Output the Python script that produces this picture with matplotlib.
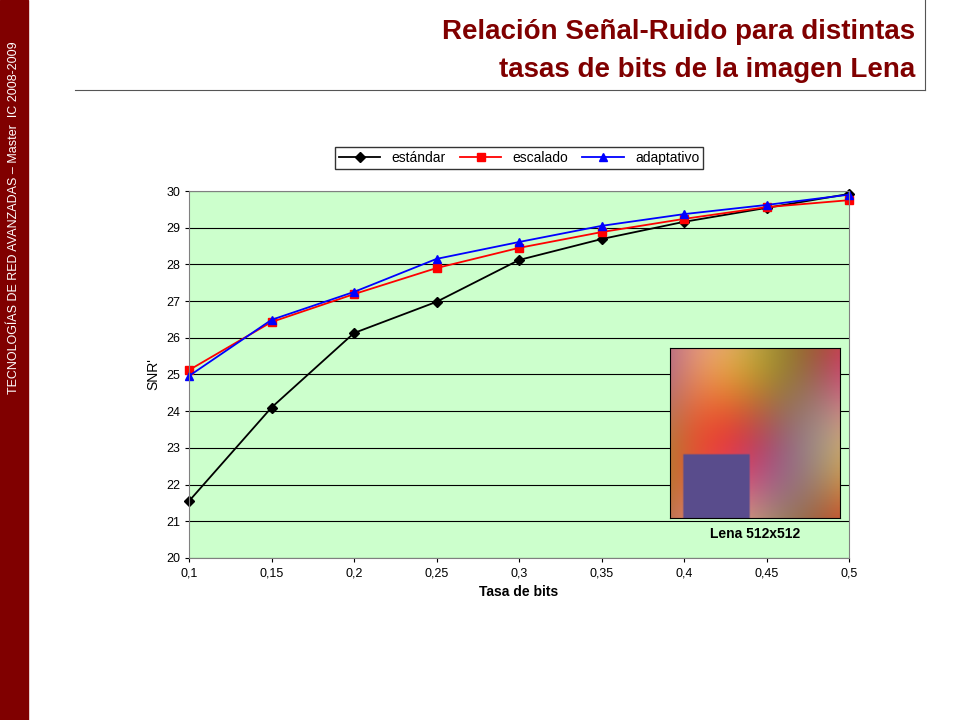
import matplotlib
matplotlib.use("Agg")
import matplotlib.pyplot as plt
import numpy as np
from matplotlib.patches import Rectangle
from matplotlib.lines import Line2D

x = [0.1, 0.15, 0.2, 0.25, 0.3, 0.35, 0.4, 0.45, 0.5]
estandar = [21.55, 24.1, 26.13, 26.98, 28.12, 28.69, 29.16, 29.54, 29.92]
escalado = [25.12, 26.43, 27.19, 27.9, 28.45, 28.88, 29.24, 29.56, 29.75]
adaptativo = [24.96, 26.49, 27.25, 28.15, 28.61, 29.05, 29.37, 29.62, 29.9]
xticks = ["0,1", "0,15", "0,2", "0,25", "0,3", "0,35", "0,4", "0,45", "0,5"]

fig = plt.figure(figsize=(9.6, 7.2), dpi=100)
fig.patch.set_facecolor("white")
plt.rcParams['font.family'] = ['Liberation Sans', 'DejaVu Sans']

# side bar
fig.patches.append(Rectangle((0, 0), 28/960, 1, transform=fig.transFigure, color="#800000", zorder=0))
fig.text(14/960, 1 - 218/720, "TECNOLOGÍAS DE RED AVANZADAS – Master  IC 2008-2009", rotation=90,
         color="white", fontsize=9, ha="center", va="center")
# title
fig.text(915/960, 1 - 32/720, "Relación Señal-Ruido para distintas", ha="right", va="center",
         color="#800000", fontsize=20, fontweight="bold")
fig.text(915/960, 1 - 70/720, "tasas de bits de la imagen Lena", ha="right", va="center",
         color="#800000", fontsize=20, fontweight="bold")
fig.lines.append(Line2D([75/960, 925/960], [1 - 90/720]*2, transform=fig.transFigure, color="#555555", lw=0.8))
fig.lines.append(Line2D([925/960]*2, [1 - 90/720, 1], transform=fig.transFigure, color="#555555", lw=0.8))

ax = fig.add_axes([189/960, 1 - 558/720, 660/960, 367/720])
ax.set_facecolor("#CCFFCC")
ax.plot(x, estandar, color="black", marker="D", ms=5, lw=1.3, label="estándar", clip_on=False)
ax.plot(x, escalado, color="red", marker="s", ms=6, lw=1.3, label="escalado", clip_on=False)
ax.plot(x, adaptativo, color="blue", marker="^", ms=6, lw=1.3, label="adaptativo", clip_on=False)
ax.set_xlim(0.1, 0.5)
ax.set_ylim(20, 30)
ax.set_xticks(x)
ax.set_xticklabels(xticks, fontsize=9)
ax.set_yticks(range(20, 31))
ax.tick_params(labelsize=9, direction="out", length=3)
ax.yaxis.grid(True, color="black", lw=0.8)
for s in ax.spines.values():
    s.set_color("#808080")
ax.set_xlabel("Tasa de bits", fontsize=10, fontweight="bold")
ax.set_ylabel("SNR'", fontsize=10)
leg = ax.legend(loc="lower center", bbox_to_anchor=(0.5, 1.04), ncol=3, frameon=True,
                fancybox=False, edgecolor="black", fontsize=10, handlelength=3, borderpad=0.3,
                columnspacing=1.0)

# inset image placeholder
iax = fig.add_axes([670/960, 1 - 518/720, 170/960, 170/720])
yy, xx = np.mgrid[0:64, 0:64]
img = np.zeros((64, 64, 3))
img[..., 0] = 0.75 + 0.15 * np.sin(xx / 10.0)
img[..., 1] = 0.45 + 0.2 * np.cos(yy / 12.0) * np.sin(xx / 15.0)
img[..., 2] = 0.35 + 0.15 * np.cos((xx + yy) / 14.0)
img[40:, 5:30, :] = [0.35, 0.3, 0.55]
iax.imshow(np.clip(img, 0, 1), aspect="auto")
iax.set_xticks([]); iax.set_yticks([])
fig.text(755/960, 1 - 534/720, "Lena 512x512", ha="center", va="center", fontsize=10, fontweight="bold")

fig.savefig("out.png", dpi=100)
